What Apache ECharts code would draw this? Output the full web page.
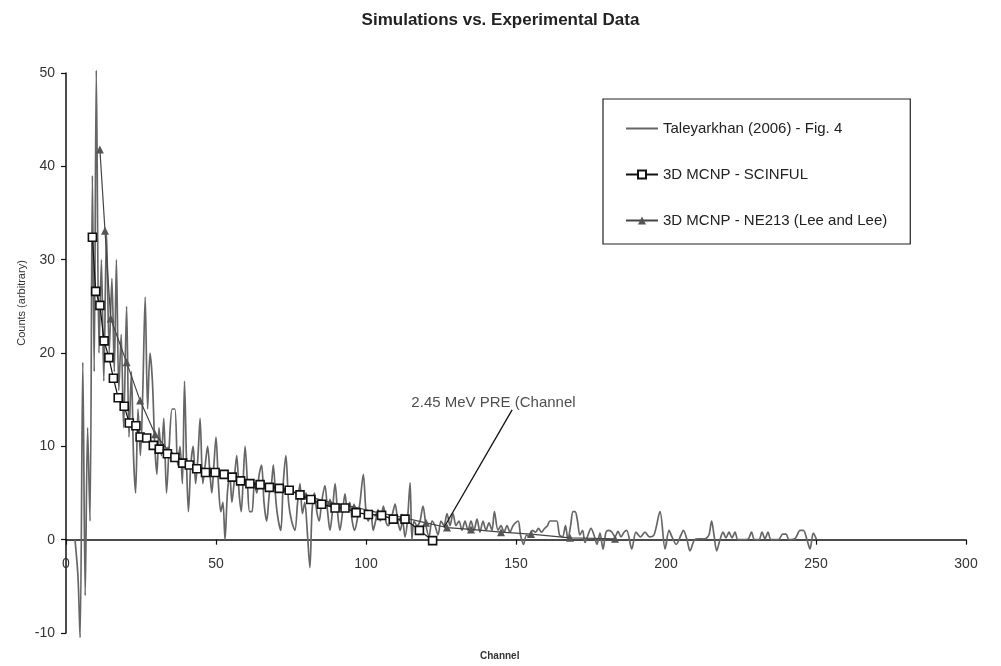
<!DOCTYPE html>
<html>
<head>
<meta charset="utf-8">
<script src="https://cdn.jsdelivr.net/npm/echarts@6/dist/echarts.min.js"></script>
<style>html,body{margin:0;padding:0;background:#fff}#c{width:1001px;height:666px}</style>
</head>
<body>
<div id="c"></div>
<script>
var titleText = 'Simulations vs. Experimental Data';
var xName = 'Channel';
var yName = 'Counts (arbitrary)';
var seriesNames = ['Taleyarkhan (2006) - Fig. 4', '3D MCNP - SCINFUL', '3D MCNP - NE213 (Lee and Lee)'];
var xTicks = {min: 0, max: 300, interval: 50};
var yTicks = {min: -10, max: 50, interval: 10};

var taleyarkhan = [
[3,0],[4,-4],[4.7,-10.5],[5.6,19],[6.4,-6],[7.2,12],[8,2],[8.8,39],[9.4,18],[10.1,50.3],[11,20],[11.8,30],[12.6,17],[13.5,33],[14.4,20],[15.3,28],[16.1,18],[16.8,30],[17.6,16],[18.4,22],[19.2,12],[20.2,25],[21,11],[21.8,18],[22.5,9],[23.2,5],[24,14],[24.8,9],[25.6,16],[26.4,26],[27.2,14],[28,20],[28.8,17],[29.6,10],[30.3,7],[31,12],[31.8,9],[32.6,13],[33.5,5],[34.4,10],[35.4,14],[36.3,14],[37.2,8],[38,10],[38.8,6],[39.5,17],[40.2,8],[40.8,3],[41.6,8],[42.4,10],[43.2,6],[44,9],[44.7,13],[45.6,6],[46.4,8],[47.2,10],[48,7],[48.6,5],[49.3,8],[50,11],[50.8,6],[51.6,3],[52.3,4],[53,0],[53.8,5],[54.6,7],[55.3,4],[56,6],[56.9,9],[57.7,5],[58.4,3],[59,6],[59.7,10],[60.5,6],[61.2,3],[62,3],[62.8,6],[63.6,5],[64.4,7],[65.2,8],[66,4],[66.9,2],[67.8,5],[68.5,6],[69.1,8],[70,4],[70.8,2],[71.6,1],[72.4,6],[73.3,9],[74.2,4],[75.2,2],[76.3,1],[77.2,4],[78,6],[78.8,2.8],[79.6,4],[80.4,1],[81.3,-3],[82,3],[82.8,5],[83.6,3],[84.4,2],[85.2,4],[86.3,5.8],[87.2,3],[88,1],[88.8,3],[89.7,6],[90.5,3],[91.3,1],[92.2,3],[93,4.9],[93.8,3],[94.6,4],[95.4,2],[96.2,1],[97,2],[98,4],[99.1,7],[100,3],[100.8,2],[101.6,3],[102.4,1],[103.2,2],[104,3],[104.8,2],[105.8,3.6],[106.6,2],[107.4,1.5],[108.2,2],[109,3],[109.7,3.8],[110.6,2],[111.4,1],[112.2,2],[113,0.3],[113.8,2],[114.7,6.1],[115.3,0],[116,2],[117,1.5],[118,2],[119,3.6],[120,1.5],[121,0.3],[122,2],[123,1.5],[124,0.5],[125,2],[126,1.5],[127,2.8],[128,1.5],[129,2.8],[130,1.5],[131,2],[132,1],[133,2],[134,1],[135,2],[136,1],[137,2.2],[138,0.8],[139,2],[140,1],[141,1.8],[142,1],[142.8,3],[144,1],[145,1.5],[146,0.8],[147,1.5],[148,0.8],[149,1.5],[150.7,2],[151.5,0.5],[152.5,-0.5],[153.5,0.5],[154.5,0.3],[155.5,1],[156.5,0.8],[157.5,1.2],[158.5,0.8],[159.5,1.2],[160.5,1.5],[161.3,2],[162.5,2],[163.6,2],[164.5,0.5],[165.5,0.3],[166.5,1.5],[167.3,0],[168.2,1.5],[169,3],[169.7,3],[170.5,2],[171.3,0.5],[172.2,1],[173,-0.3],[174,0.5],[175,1.2],[176,0.5],[177,-0.5],[178,0.7],[179,-1],[180,0.8],[181,1],[182,0.8],[183,0.3],[184,0.9],[185,0.3],[186,0.8],[186.9,1],[188.6,-1],[190,0.8],[191.5,0.3],[193,0.8],[194.5,0.3],[196,0.5],[198,3],[199.7,-1],[201,1],[202,0.3],[203.4,-0.5],[205,0.5],[205.8,1],[207,0],[208,-1.2],[209.5,0],[211,0.1],[213,0.1],[214.3,0.5],[215.2,2],[216,0.5],[216.9,-1.2],[218,0],[219,0.8],[220,0.2],[221,0.8],[222,0.2],[223,0.8],[224,0],[226,0],[227.5,0.1],[228.5,0.8],[229.5,0],[231,0],[232,0.8],[233,0.1],[234,0.8],[235,0],[237.5,0],[238.9,0.6],[240,0.6],[241,0],[243,0.1],[244.7,1],[245.8,1],[247,0],[248,-1],[249.1,0.7],[250.2,0]
];

var scinful = [
[8.8,32.4],[9.9,26.6],[11.3,25.1],[12.7,21.3],[14.3,19.5],[15.8,17.3],[17.4,15.2],[19.4,14.3],[21.1,12.5],[23.3,12.2],[24.7,11.0],[26.9,10.9],[29.1,10.1],[31.1,9.7],[33.8,9.2],[36.3,8.8],[38.9,8.2],[41.1,8.0],[43.6,7.6],[46.5,7.2],[49.7,7.2],[52.7,7.0],[55.4,6.7],[58.2,6.3],[61.3,6.0],[64.7,5.9],[67.8,5.6],[71.1,5.5],[74.4,5.3],[78,4.8],[81.6,4.3],[85.2,3.8],[89.7,3.4],[93,3.4],[96.7,2.9],[100.8,2.7],[105.2,2.6],[109.1,2.2],[113,2.2],[117.8,1.0],[122.2,-0.1]
];

var ne213 = [
[11.3,41.8],[13,33.1],[14.9,23.7],[20.2,19.0],[24.7,14.9],[29.7,11.3],[34,9.6],[40,8.3],[48,7.4],[56,6.7],[64,6.0],[72,5.5],[80,4.7],[88,4.0],[96,3.5],[104,2.9],[112,2.4],[120,1.8],[127,1.3],[135,1.1],[145,0.8],[155,0.6],[168,0.2],[183,0.1]
];

var annotationText = '2.45 MeV PRE (Channel';
var annotationTextAt = [[142.5, 14.7]];
var annotationPointer = [[148.7, 13.9], [126, 1.3]];

var FONT = 'Liberation Sans, Arial, sans-serif';
var GRID = {left: 66, right: 35, top: 73, bottom: 33};
var plotH = 666 - GRID.top - GRID.bottom;
// shift the x axis (line, ticks, labels) up to the y = 0 line
var xAxisOffset = -plotH * (0 - yTicks.min) / (yTicks.max - yTicks.min);

var chart = echarts.init(document.getElementById('c'), null, {renderer: 'canvas'});
chart.setOption({
  backgroundColor: '#fff',
  animation: false,
  title: {
    text: titleText, left: 'center', top: 7,
    textStyle: {fontFamily: FONT, fontSize: 17, fontWeight: 'bold', color: '#222'}
  },
  grid: {left: GRID.left, right: GRID.right, top: GRID.top, bottom: GRID.bottom, containLabel: false},
  legend: {
    data: [
      {name: seriesNames[0], itemStyle: {opacity: 0}},
      {name: seriesNames[1]},
      {name: seriesNames[2]}
    ],
    orient: 'vertical', left: 603, top: 99,
    padding: [22, 23, 16, 22],
    itemGap: 31, itemWidth: 32, itemHeight: 10,
    borderColor: '#222', borderWidth: 1.2, borderRadius: 0,
    textStyle: {fontFamily: FONT, fontSize: 15, color: '#222'}
  },
  xAxis: {
    type: 'value', min: xTicks.min, max: xTicks.max, interval: xTicks.interval,
    position: 'bottom', offset: xAxisOffset,
    axisLine: {onZero: false, lineStyle: {color: '#111', width: 1.5}},
    axisTick: {show: true, length: 5, lineStyle: {color: '#111', width: 1.2}},
    axisLabel: {margin: 17, fontFamily: FONT, fontSize: 14, color: '#333'},
    splitLine: {show: false}
  },
  yAxis: {
    type: 'value', min: yTicks.min, max: yTicks.max, interval: yTicks.interval,
    axisLine: {show: true, lineStyle: {color: '#111', width: 1.5}},
    axisTick: {show: true, length: 5, lineStyle: {color: '#111', width: 1.2}},
    axisLabel: {margin: 11, fontFamily: FONT, fontSize: 14, color: '#333'},
    splitLine: {show: false}
  },
  graphic: [
    {type: 'text', left: 500 - 20, top: 651, style: {text: xName, font: 'bold 10px ' + FONT, fill: '#333'}},
    {type: 'text', x: 22, y: 303, rotation: Math.PI / 2,
     style: {text: yName, font: '11px ' + FONT, fill: '#333', align: 'center', verticalAlign: 'middle'}}
  ],
  series: [
    {
      name: seriesNames[0], type: 'line', data: taleyarkhan,
      symbol: 'none', smooth: 0.3, clip: false, z: 2,
      lineStyle: {color: '#666', width: 1.7}, itemStyle: {color: '#222'}
    },
    {
      name: seriesNames[2], type: 'line', data: ne213,
      symbol: 'triangle', symbolSize: 8, z: 3,
      lineStyle: {color: '#444', width: 1.2}, itemStyle: {color: '#555'}
    },
    {
      name: seriesNames[1], type: 'line', data: scinful,
      symbol: 'rect', symbolSize: 8, z: 4,
      lineStyle: {color: '#111', width: 1.2},
      itemStyle: {color: '#fff', borderColor: '#111', borderWidth: 1.6}
    },
    {
      name: 'pointer', type: 'line', data: annotationPointer,
      symbol: 'none', z: 5, silent: true,
      lineStyle: {color: '#111', width: 1.3}
    },
    {
      name: 'annotation', type: 'scatter', data: annotationTextAt,
      symbolSize: 1, itemStyle: {color: 'rgba(0,0,0,0)'}, z: 6, silent: true,
      label: {show: true, position: 'inside', formatter: annotationText,
        fontFamily: FONT, fontSize: 15, color: '#222'}
    }
  ]
});
</script>
</body>
</html>
